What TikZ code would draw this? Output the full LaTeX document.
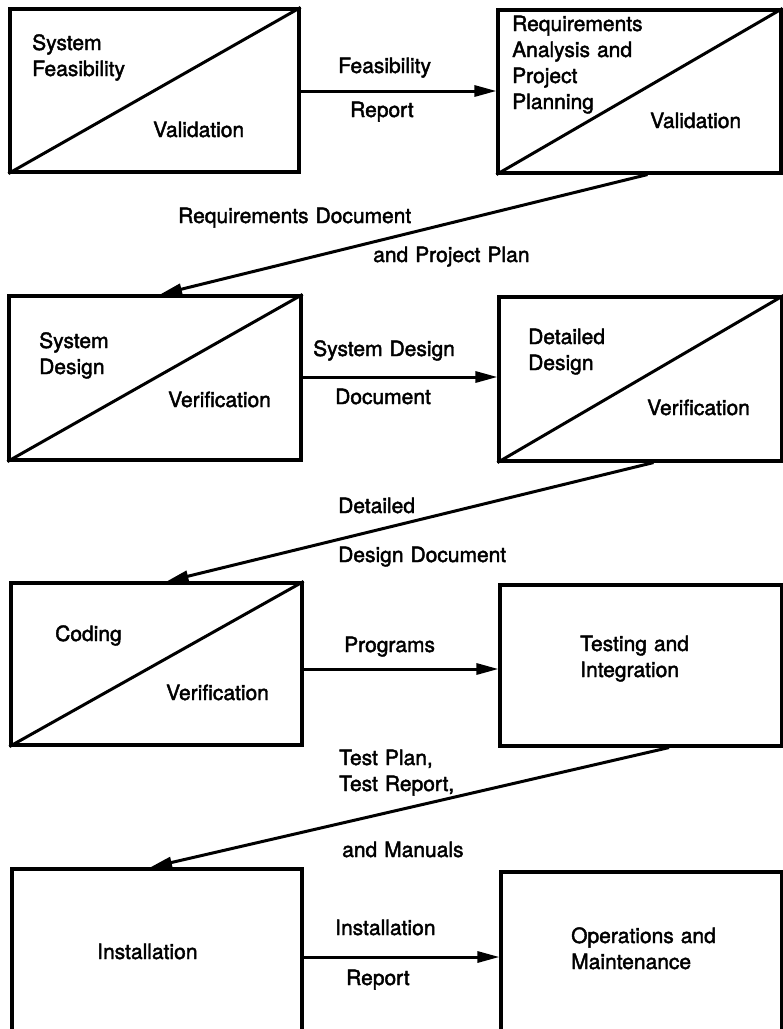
\documentclass[tikz,border=0pt]{standalone}
\usepackage{fontspec}
\setmainfont{TeX Gyre Heros}[FakeBold=2]
\usetikzlibrary{arrows.meta}
\begin{document}
\begin{tikzpicture}[x=1pt,y=-1pt,
  phase/.style={draw,line width=3.1pt,rectangle,inner sep=0pt,minimum width=#1},
  lbl/.style={anchor=base west,inner sep=0pt,align=left,text width=260pt,font=\fontsize{21}{26}\selectfont},
  arr/.style={line width=3pt,-{Triangle[length=22pt,width=11pt]}},
  diag/.style={line width=3pt}]
\useasboundingbox (0,0) rectangle (783,1029);
% boxes
\node[phase=289pt,minimum height=163pt] (b1) at (154.5,90.5) {};
\node[phase=283pt,minimum height=163pt] (b2) at (639.5,91.5) {};
\node[phase=292pt,minimum height=164pt] (b3) at (155,378) {};
\node[phase=283pt,minimum height=164pt] (b4) at (640.5,379) {};
\node[phase=291pt,minimum height=162pt] (b5) at (156.5,664) {};
\node[phase=282pt,minimum height=161pt] (b6) at (641,665.5) {};
\node[phase=290pt,minimum height=171pt] (b7) at (157,954.5) {};
\node[phase=281pt,minimum height=168pt] (b8) at (641.5,956) {};
% diagonals
\draw[diag] (b1.south west) -- (b1.north east);
\draw[diag] (b2.south west) -- (b2.north east);
\draw[diag] (b3.south west) -- (b3.north east);
\draw[diag] (b4.south west) -- (b4.north east);
\draw[diag] (b5.south west) -- (b5.north east);
% box texts
\node[lbl] (t1a) at (32,50) {System\\Feasibility};
\node[lbl] (t1b) at (153,137) {Validation};
\node[lbl] (t2a) at (512,31) {Requirements\\Analysis and\\Project\\Planning};
\node[lbl] (t2b) at (650,128) {Validation};
\node[lbl] (t3a) at (39,348) {System\\Design};
\node[lbl] (t3b) at (168,407) {Verification};
\node[lbl] (t4a) at (528,344) {Detailed\\Design};
\node[lbl] (t4b) at (647,415) {Verification};
\node[lbl] (t5a) at (55,641) {Coding};
\node[lbl] (t5b) at (166,700) {Verification};
\node[lbl] (t6) at (580,651) {Testing and\\Integration};
\node[lbl] (t7) at (97,959) {Installation};
\node[lbl] (t8) at (571,943) {Operations and\\Maintenance};
% connector labels
\node[lbl] (c1a) at (338,73) {Feasibility};
\node[lbl] (c1b) at (350,117) {Report};
\node[lbl] (d1a) at (178,223) {Requirements Document};
\node[lbl] (d1b) at (373,262) {and Project Plan};
\node[lbl] (c2a) at (313,356) {System Design};
\node[lbl] (c2b) at (335,404) {Document};
\node[lbl] (d2a) at (338,513) {Detailed};
\node[lbl] (d2b) at (338,562) {Design Document};
\node[lbl] (c3a) at (344,652) {Programs};
\node[lbl] (d3a) at (339,765) {Test Plan,\\Test Report,};
\node[lbl] (d3b) at (342,857) {and Manuals};
\node[lbl] (c4a) at (335,935) {Installation};
\node[lbl] (c4b) at (346,985) {Report};
% connectors
\draw[arr] (b1.east |- 0,91) -- (b2.west |- 0,91);
\draw[arr] ([xshift=8pt]b2.south) -- ([xshift=5pt]b3.north);
\draw[arr] (b3.east |- 0,377) -- (b4.west |- 0,377);
\draw[arr] ([xshift=13pt]b4.south) -- ([xshift=10pt]b5.north);
\draw[arr] (b5.east |- 0,669) -- (b6.west |- 0,669);
\draw[arr] ([xshift=28pt]b6.south) -- ([xshift=-7pt]b7.north);
\draw[arr] (b7.east |- 0,957) -- (b8.west |- 0,957);
\end{tikzpicture}
\end{document}
